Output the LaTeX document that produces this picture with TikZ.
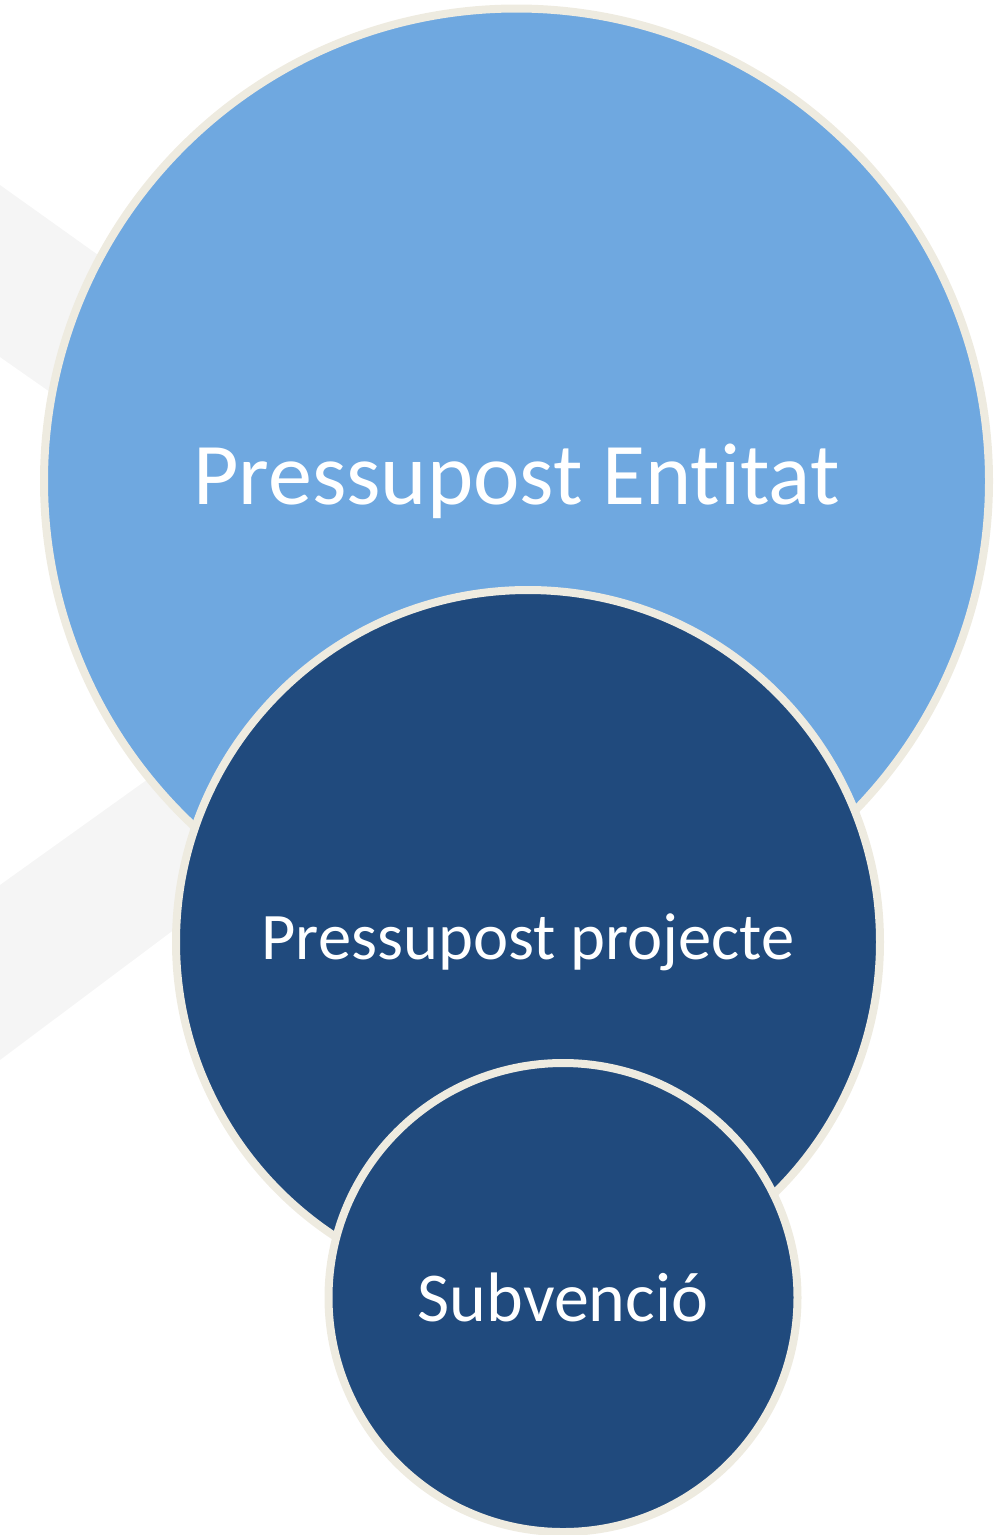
\documentclass[tikz,border=0pt]{standalone}
\usepackage{fontspec}
\setmainfont{Carlito}[RawFeature={-liga}]
\definecolor{lightblue}{RGB}{111,168,224}
\definecolor{darkblue}{RGB}{32,74,125}
\definecolor{rim}{RGB}{238,235,224}
\definecolor{bgshade}{RGB}{245,245,245}
\begin{document}
\begin{tikzpicture}[x=1pt,y=-1pt,
  bubble/.style={circle, draw=rim, line width=8pt, inner sep=0pt, text=white, align=center}]
\useasboundingbox (0,0) rectangle (1007,1535);
% faint background chevron
\fill[bgshade] (0,185) -- (598,612) -- (0,1060) -- (0,885) -- (373,618) -- (0,357) -- cycle;
\node[bubble, fill=lightblue, minimum size=945pt, font=\fontsize{88}{100}\selectfont] (entitat) at (516.5,481) {Pressupost Entitat};
\node[bubble, fill=darkblue, minimum size=704pt, font=\fontsize{66.5}{76}\selectfont] (projecte) at (528,942) {Pressupost projecte};
\node[bubble, fill=darkblue, minimum size=469pt, font=\fontsize{70}{80}\selectfont] (subvencio) at (563,1297.5) {Subvenció};
\end{tikzpicture}
\end{document}
